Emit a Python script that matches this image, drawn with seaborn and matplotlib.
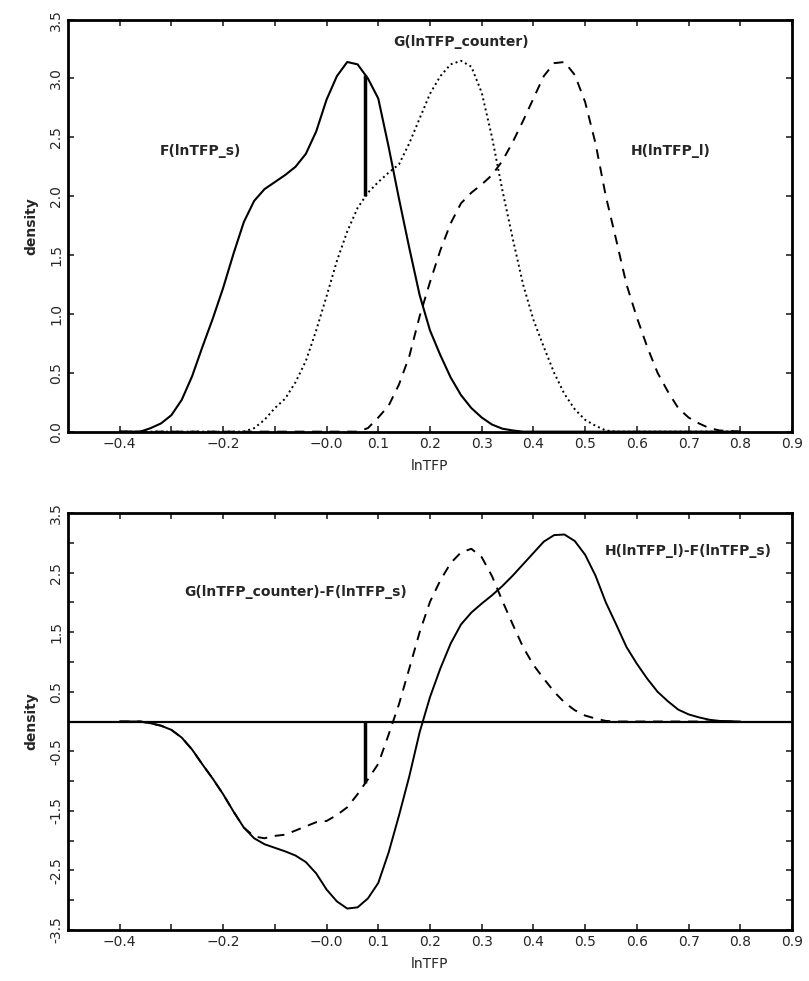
import numpy as np
import pandas as pd
import matplotlib
matplotlib.use("Agg")
import matplotlib.pyplot as plt
import seaborn as sns

# grid of lnTFP values where the three densities were read (step 0.02)
ln_tfp = [-0.40, -0.38, -0.36, -0.34, -0.32, -0.30, -0.28, -0.26, -0.24, -0.22,
          -0.20, -0.18, -0.16, -0.14, -0.12, -0.10, -0.08, -0.06, -0.04, -0.02,
          0.00, 0.02, 0.04, 0.06, 0.08, 0.10, 0.12, 0.14, 0.16, 0.18,
          0.20, 0.22, 0.24, 0.26, 0.28, 0.30, 0.32, 0.34, 0.36, 0.38,
          0.40, 0.42, 0.44, 0.46, 0.48, 0.50, 0.52, 0.54, 0.56, 0.58,
          0.60, 0.62, 0.64, 0.66, 0.68, 0.70, 0.72, 0.74, 0.76, 0.78, 0.80]

# F(lnTFP_s) - solid
dens_f = [0.00, 0.00, 0.00, 0.03, 0.07, 0.14, 0.27, 0.47, 0.72, 0.96,
          1.22, 1.51, 1.78, 1.96, 2.06, 2.12, 2.18, 2.25, 2.36, 2.55,
          2.82, 3.02, 3.14, 3.12, 3.00, 2.83, 2.42, 1.98, 1.56, 1.16,
          0.86, 0.65, 0.46, 0.31, 0.20, 0.12, 0.06, 0.025, 0.01, 0.00,
          0.00, 0.00, 0.00, 0.00, 0.00, 0.00, 0.00, 0.00, 0.00, 0.00,
          0.00, 0.00, 0.00, 0.00, 0.00, 0.00, 0.00, 0.00, 0.00, 0.00, 0.00]

# G(lnTFP_counter) - dotted
dens_g = [0.00, 0.00, 0.00, 0.00, 0.00, 0.00, 0.00, 0.00, 0.00, 0.00,
          0.00, 0.00, 0.00, 0.03, 0.10, 0.20, 0.28, 0.42, 0.60, 0.86,
          1.15, 1.45, 1.70, 1.90, 2.03, 2.12, 2.20, 2.27, 2.45, 2.66,
          2.87, 3.02, 3.12, 3.15, 3.10, 2.88, 2.50, 2.05, 1.64, 1.25,
          0.95, 0.72, 0.50, 0.32, 0.19, 0.10, 0.05, 0.01, 0.00, 0.00,
          0.00, 0.00, 0.00, 0.00, 0.00, 0.00, 0.00, 0.00, 0.00, 0.00, 0.00]

# H(lnTFP_l) - dashed
dens_h = [0.00, 0.00, 0.00, 0.00, 0.00, 0.00, 0.00, 0.00, 0.00, 0.00,
          0.00, 0.00, 0.00, 0.00, 0.00, 0.00, 0.00, 0.00, 0.00, 0.00,
          0.00, 0.00, 0.00, 0.00, 0.03, 0.12, 0.22, 0.40, 0.64, 0.98,
          1.27, 1.54, 1.77, 1.94, 2.03, 2.10, 2.18, 2.30, 2.46, 2.64,
          2.83, 3.02, 3.13, 3.14, 3.03, 2.80, 2.45, 2.00, 1.63, 1.25,
          0.97, 0.72, 0.50, 0.34, 0.20, 0.12, 0.07, 0.03, 0.01, 0.005, 0.00]

# vertical marker at lnTFP = 0.075 between G and F
mark_x = 0.075
mark_f = 3.03
mark_g = 2.00

x_ticks = [-0.4, -0.3, -0.2, -0.1, 0.0, 0.1, 0.2, 0.3, 0.4, 0.5, 0.6, 0.7, 0.8, 0.9]
x_ticklabels = ["\u22120.4", "", "\u22120.2", "", "\u22120.0", "0.1", "0.2", "0.3",
                "0.4", "0.5", "0.6", "0.7", "0.8", "0.9"]
top_yticks = [0.0, 0.5, 1.0, 1.5, 2.0, 2.5, 3.0, 3.5]
bot_yticks = [-3.5, -3.0, -2.5, -2.0, -1.5, -1.0, -0.5, 0.0, 0.5, 1.0, 1.5, 2.0, 2.5, 3.0, 3.5]
bot_ylabels = ["-3.5", "", "-2.5", "", "-1.5", "", "-0.5", "", "0.5", "", "1.5", "", "2.5", "", "3.5"]

df = pd.DataFrame({"lnTFP": ln_tfp, "F": dens_f, "G": dens_g, "H": dens_h})
df["G_minus_F"] = df["G"] - df["F"]
df["H_minus_F"] = df["H"] - df["F"]

sns.set_style("ticks")
plt.rcParams["font.family"] = ["DejaVu Sans"]

fig = plt.figure(figsize=(8.09, 9.81), dpi=100)
ax1 = fig.add_axes([0.084, 0.560, 0.895, 0.420])
ax2 = fig.add_axes([0.084, 0.052, 0.895, 0.425])

dash_style = (0, (5, 4))

# ---- top panel
sns.lineplot(data=df, x="lnTFP", y="F", ax=ax1, color="black", lw=1.5)
sns.lineplot(data=df, x="lnTFP", y="G", ax=ax1, color="black", lw=1.4, linestyle=":")
sns.lineplot(data=df, x="lnTFP", y="H", ax=ax1, color="black", lw=1.4, linestyle=dash_style)
ax1.vlines(mark_x, mark_g, mark_f, color="black", lw=2.5)
ax1.set_ylim(0, 3.5)
ax1.set_yticks(top_yticks)
ax1.set_yticklabels([f"{v:.1f}" for v in top_yticks], rotation=90, va="center")
ax1.text(-0.244, 2.385, "F(lnTFP_s)", ha="center", va="center", fontsize=10, fontweight="bold")
ax1.text(0.26, 3.31, "G(lnTFP_counter)", ha="center", va="center", fontsize=10, fontweight="bold")
ax1.text(0.665, 2.38, "H(lnTFP_l)", ha="center", va="center", fontsize=10, fontweight="bold")

# ---- bottom panel
ax2.axhline(0, color="black", lw=1.6)
sns.lineplot(data=df, x="lnTFP", y="H_minus_F", ax=ax2, color="black", lw=1.4)
sns.lineplot(data=df, x="lnTFP", y="G_minus_F", ax=ax2, color="black", lw=1.4, linestyle=dash_style)
ax2.vlines(mark_x, mark_g - mark_f, 0, color="black", lw=2.5)
ax2.set_ylim(-3.5, 3.5)
ax2.set_yticks(bot_yticks)
ax2.set_yticklabels(bot_ylabels, rotation=90, va="center")
ax2.text(-0.06, 2.18, "G(lnTFP_counter)-F(lnTFP_s)", ha="center", va="center", fontsize=10, fontweight="bold")
ax2.text(0.70, 2.86, "H(lnTFP_l)-F(lnTFP_s)", ha="center", va="center", fontsize=10, fontweight="bold")

for ax in (ax1, ax2):
    ax.set_xlim(-0.5, 0.9)
    ax.set_xticks(x_ticks)
    ax.set_xticklabels(x_ticklabels)
    ax.set_xlabel("lnTFP", fontsize=10, labelpad=6)
    ax.set_ylabel("density", fontsize=10, fontweight="bold", labelpad=8)
    ax.tick_params(direction="in", top=True, right=True, length=4, width=1.2, labelsize=10)
    for sp in ax.spines.values():
        sp.set_visible(True)
        sp.set_linewidth(2)
        sp.set_color("black")

fig.savefig("out.png", dpi=100)
